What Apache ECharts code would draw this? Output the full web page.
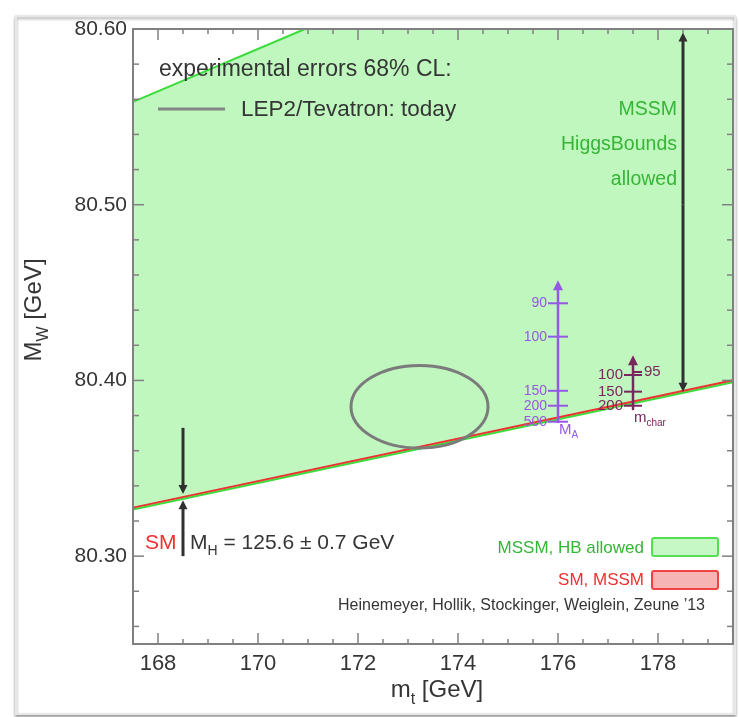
<!DOCTYPE html>
<html>
<head>
<meta charset="utf-8">
<script src="https://cdn.jsdelivr.net/npm/echarts@6/dist/echarts.min.js"></script>
<style>
html,body{margin:0;padding:0;background:#ffffff;}
#chart{width:739px;height:717px;}
</style>
</head>
<body>
<div id="chart"></div>
<script>
// ---- axis ranges and ticks ----
const mtRange = [167.5, 179.5];
const mwRange = [80.25, 80.60];
const mtLabelTicks = [168, 170, 172, 174, 176, 178];
const mtMinorTicks = [168.5, 169, 169.5, 170.5, 171, 171.5, 172.5, 173, 173.5, 174.5, 175, 175.5,
                      176.5, 177, 177.5, 178.5, 179];
const mwLabelTicks = [80.30, 80.40, 80.50, 80.60];
const mwMinorTicks = [80.26, 80.28, 80.32, 80.34, 80.36, 80.38, 80.42, 80.44, 80.46, 80.48,
                      80.52, 80.54, 80.56, 80.58];

// ---- MSSM HiggsBounds-allowed region (mt, MW) ----
const hbAllowedRegion = [[167.5, 80.5585], [170.94, 80.60], [179.5, 80.60], [179.5, 80.3990], [167.5, 80.3265]];
const hbUpperEdge = [[167.5, 80.5585], [170.94, 80.60]];
const hbLowerEdge = [[167.5, 80.3265], [179.5, 80.3990]];

// ---- SM prediction for MH = 125.6 +- 0.7 GeV ----
const smBand = [[167.5, 80.3276], [179.5, 80.4001]];

// ---- LEP2/Tevatron 68% CL ellipse: mt centre, MW centre, mt half-width, MW half-width ----
const lepTevatron = [[173.23, 80.385, 1.37, 0.0235]];

// ---- arrows: mt, MW tail, MW tip ----
const mssmRangeArrows = [[178.5, 80.50, 80.598], [178.5, 80.50, 80.3935]];
const smArrows = [[168.5, 80.373, 80.3353], [168.5, 80.300, 80.3318]];
const maAxisArrow = [[176.0, 80.3758, 80.457]];
const mcharAxisArrow = [[177.5, 80.3831, 80.4144]];

// ---- MA and m_char scan points ----
const maLabels = ['90', '100', '150', '200', '500'];
const maValues = [[176.0, 80.4439], [176.0, 80.4249], [176.0, 80.3941], [176.0, 80.3856], [176.0, 80.3765]];
const mcharLabels = ['100', '150', '200'];
const mcharValues = [[177.5, 80.4031], [177.5, 80.3936], [177.5, 80.3856]];
const mcharRightLabels = ['95'];
const mcharRightValues = [[177.5, 80.4048]];

// ---- styling ----
const FONT = '"Liberation Sans", Arial, Helvetica, sans-serif';
const AXIS_GREY = '#808080';
const TEXT_DARK = '#353535';
const GREEN_FILL = '#bff7bf';
const GREEN_LINE = '#3ddc3d';
const GREEN_TEXT = '#36b536';
const RED = '#ee3030';
const PURPLE = '#9658e4';
const MAROON = '#78285c';
const TOP_Z = 100;

const measureCtx = document.createElement('canvas').getContext('2d');
function textWidth(str, size) {
  measureCtx.font = size + 'px ' + FONT;
  return measureCtx.measureText(str).width;
}

// text made of normal and subscript parts, returned as a graphic group
function richLabel(x, y, parts, size, color, align, rotation) {
  const subSize = Math.round(size * 0.68);
  const widths = parts.map(p => textWidth(p.t, p.sub ? subSize : size));
  const total = widths.reduce((a, b) => a + b, 0);
  let cx = align === 'center' ? -total / 2 : (align === 'right' ? -total : 0);
  const children = [];
  parts.forEach((p, i) => {
    children.push({
      type: 'text', z: TOP_Z,
      x: cx,
      y: p.sub ? size * 0.38 : 0,
      style: {
        text: p.t,
        fontSize: p.sub ? subSize : size,
        fontFamily: FONT,
        fill: p.color || color,
        align: 'left',
        verticalAlign: 'middle'
      }
    });
    cx += widths[i];
  });
  return { type: 'group', z: TOP_Z, x: x, y: y, rotation: rotation || 0, children: children };
}

function plainText(x, y, text, size, color, align) {
  return {
    type: 'text', z: TOP_Z, x: x, y: y,
    style: { text: text, fontSize: size, fontFamily: FONT, fill: color, align: align || 'left', verticalAlign: 'middle' }
  };
}

function arrowRenderer(color, width, headLen, headHalf) {
  return function (params, api) {
    const a = api.coord([api.value(0), api.value(1)]);
    const b = api.coord([api.value(0), api.value(2)]);
    const dir = b[1] < a[1] ? -1 : 1;
    return {
      type: 'group',
      children: [
        { type: 'line', shape: { x1: a[0], y1: a[1], x2: b[0], y2: b[1] - dir * headLen * 0.6 },
          style: { stroke: color, lineWidth: width } },
        { type: 'polygon',
          shape: { points: [[b[0], b[1]], [b[0] - headHalf, b[1] - dir * headLen], [b[0] + headHalf, b[1] - dir * headLen]] },
          style: { fill: color } }
      ]
    };
  };
}

function tickRenderer(color, labels, side, halfLen, size) {
  return function (params, api) {
    const p = api.coord([api.value(0), api.value(1)]);
    const left = side === 'left';
    return {
      type: 'group',
      children: [
        { type: 'line',
          shape: left ? { x1: p[0] - halfLen, y1: p[1], x2: p[0] + halfLen, y2: p[1] }
                      : { x1: p[0], y1: p[1], x2: p[0] + halfLen, y2: p[1] },
          style: { stroke: color, lineWidth: 2 } },
        { type: 'text', x: left ? p[0] - halfLen - 1 : p[0] + halfLen + 2, y: p[1],
          style: { text: labels[params.dataIndex], fontSize: size, fontFamily: FONT, fill: color,
                   align: left ? 'right' : 'left', verticalAlign: 'middle' } }
      ]
    };
  };
}

function xAxisDef(position, showLabels) {
  return {
    type: 'value', min: mtRange[0], max: mtRange[1], position: position, z: 20,
    axisLine: { show: true, onZero: false, lineStyle: { color: AXIS_GREY, width: 2 } },
    axisTick: { show: false },
    axisLabel: { show: showLabels, customValues: mtLabelTicks, margin: 9,
                 fontSize: 22, fontFamily: FONT, color: TEXT_DARK, formatter: v => String(v) },
    splitLine: { show: false }
  };
}
function yAxisDef(position, showLabels) {
  return {
    type: 'value', min: mwRange[0], max: mwRange[1], position: position, z: 20,
    axisLine: { show: true, onZero: false, lineStyle: { color: AXIS_GREY, width: 2 } },
    axisTick: { show: false },
    axisLabel: { show: showLabels, customValues: mwLabelTicks, margin: 6,
                 fontSize: 21, fontFamily: FONT, color: TEXT_DARK, formatter: v => v.toFixed(2) },
    splitLine: { show: false }
  };
}

const chart = echarts.init(document.getElementById('chart'), null, { renderer: 'canvas' });

const annotations = [
  // card frame
  { type: 'rect', z: -100, silent: true,
    shape: { x: 16, y: 16, width: 719, height: 698 },
    style: { fill: '#ffffff', stroke: '#e6e8e8', lineWidth: 2,
             shadowBlur: 3, shadowColor: 'rgba(0,0,0,0.35)', shadowOffsetY: 2 } },
  // experimental errors legend
  plainText(159, 70, 'experimental errors 68% CL:', 23, TEXT_DARK),
  { type: 'line', z: TOP_Z, shape: { x1: 158, y1: 109, x2: 225, y2: 109 }, style: { stroke: '#858585', lineWidth: 3 } },
  plainText(241, 110, 'LEP2/Tevatron: today', 22.5, TEXT_DARK),
  // MSSM allowed annotation
  plainText(677, 110, 'MSSM', 19.5, GREEN_TEXT, 'right'),
  plainText(677, 145, 'HiggsBounds', 19.5, GREEN_TEXT, 'right'),
  plainText(677, 180, 'allowed', 19.5, GREEN_TEXT, 'right'),
  // SM Higgs mass annotation
  plainText(145, 543, 'SM', 21, RED),
  richLabel(190, 543, [{ t: 'M' }, { t: 'H', sub: true }, { t: ' = 125.6 \u00b1 0.7 GeV' }], 21, TEXT_DARK, 'left'),
  // scan axis names
  richLabel(559, 430, [{ t: 'M' }, { t: 'A', sub: true }], 15, PURPLE, 'left'),
  richLabel(634, 418, [{ t: 'm' }, { t: 'char', sub: true }], 15, MAROON, 'left'),
  // legend swatches
  plainText(644, 548, 'MSSM, HB allowed', 17, GREEN_TEXT, 'right'),
  { type: 'rect', z: TOP_Z, shape: { x: 652, y: 538, width: 66, height: 18, r: 2 },
    style: { fill: '#c6f8c6', stroke: '#55dd55', lineWidth: 2 } },
  plainText(644, 580, 'SM, MSSM', 17, RED, 'right'),
  { type: 'rect', z: TOP_Z, shape: { x: 652, y: 571, width: 66, height: 18, r: 2 },
    style: { fill: '#f6b4b4', stroke: '#ee4444', lineWidth: 2 } },
  plainText(705, 606, 'Heinemeyer, Hollik, Stockinger, Weiglein, Zeune \u201913', 16, TEXT_DARK, 'right'),
  // axis titles
  richLabel(437, 690, [{ t: 'm' }, { t: 't', sub: true }, { t: ' [GeV]' }], 24, TEXT_DARK, 'center'),
  richLabel(34, 310, [{ t: 'M' }, { t: 'W', sub: true }, { t: ' [GeV]' }], 24, TEXT_DARK, 'center', Math.PI / 2)
];

const option = {
  animation: false,
  backgroundColor: '#ffffff',
  grid: { left: 133, top: 29, right: 6, bottom: 73, containLabel: false },
  xAxis: [xAxisDef('bottom', true), xAxisDef('top', false)],
  yAxis: [yAxisDef('left', true), yAxisDef('right', false)],
  graphic: annotations,
  series: [
    {
      name: 'MSSM, HB allowed', type: 'custom', z: 1, silent: true,
      data: [[hbAllowedRegion[0][0], hbAllowedRegion[0][1]]],
      renderItem: function (params, api) {
        return { type: 'polygon', shape: { points: hbAllowedRegion.map(p => api.coord(p)) },
                 style: { fill: GREEN_FILL } };
      }
    },
    { type: 'line', z: 2, data: hbUpperEdge, showSymbol: false, silent: true,
      lineStyle: { color: GREEN_LINE, width: 2 } },
    { type: 'line', z: 2, data: hbLowerEdge, showSymbol: false, silent: true,
      lineStyle: { color: GREEN_LINE, width: 2 } },
    { name: 'SM, MSSM', type: 'line', z: 3, data: smBand, showSymbol: false, silent: true,
      lineStyle: { color: RED, width: 2 } },
    {
      name: 'LEP2/Tevatron: today', type: 'custom', z: 4, silent: true, data: lepTevatron,
      renderItem: function (params, api) {
        const c = api.coord([api.value(0), api.value(1)]);
        const s = api.size([api.value(2), api.value(3)]);
        return { type: 'ellipse', shape: { cx: c[0], cy: c[1], rx: s[0], ry: s[1] },
                 style: { fill: 'none', stroke: '#7b7b7b', lineWidth: 3 } };
      }
    },
    { type: 'custom', z: 5, silent: true, data: mssmRangeArrows, renderItem: arrowRenderer('#303030', 3, 9, 4.5) },
    { type: 'custom', z: 5, silent: true, data: smArrows, renderItem: arrowRenderer('#303030', 3, 9, 4.5) },
    { type: 'custom', z: 5, silent: true, data: maAxisArrow, renderItem: arrowRenderer(PURPLE, 2.5, 10, 5) },
    { type: 'custom', z: 5, silent: true, data: mcharAxisArrow, renderItem: arrowRenderer(MAROON, 2.5, 10, 5) },
    { type: 'custom', z: 6, silent: true, data: maValues, renderItem: tickRenderer(PURPLE, maLabels, 'left', 10, 14) },
    { type: 'custom', z: 6, silent: true, data: mcharValues, renderItem: tickRenderer(MAROON, mcharLabels, 'left', 9, 15) },
    { type: 'custom', z: 6, silent: true, data: mcharRightValues, renderItem: tickRenderer(MAROON, mcharRightLabels, 'right', 9, 15) }
  ]
};

chart.setOption(option);

// inward frame ticks on all four sides, placed through the grid's own scales
function frameTicks() {
  const els = [];
  const toPx = p => chart.convertToPixel({ gridIndex: 0 }, p);
  const tickStyle = { stroke: AXIS_GREY, lineWidth: 1.5 };
  const addX = (vals, len) => vals.forEach(v => {
    const a = toPx([v, mwRange[0]]), b = toPx([v, mwRange[1]]);
    els.push({ type: 'line', z: TOP_Z, silent: true, shape: { x1: a[0], y1: a[1], x2: a[0], y2: a[1] - len }, style: tickStyle });
    els.push({ type: 'line', z: TOP_Z, silent: true, shape: { x1: b[0], y1: b[1], x2: b[0], y2: b[1] + len }, style: tickStyle });
  });
  const addY = (vals, len) => vals.forEach(v => {
    const a = toPx([mtRange[0], v]), b = toPx([mtRange[1], v]);
    els.push({ type: 'line', z: TOP_Z, silent: true, shape: { x1: a[0], y1: a[1], x2: a[0] + len, y2: a[1] }, style: tickStyle });
    els.push({ type: 'line', z: TOP_Z, silent: true, shape: { x1: b[0], y1: b[1], x2: b[0] - len, y2: b[1] }, style: tickStyle });
  });
  addX(mtLabelTicks, 11);
  addX(mtMinorTicks, 5);
  addY(mwLabelTicks, 11);
  addY(mwMinorTicks, 6);
  return els;
}

chart.setOption({ graphic: annotations.concat(frameTicks()) });
</script>
</body>
</html>
